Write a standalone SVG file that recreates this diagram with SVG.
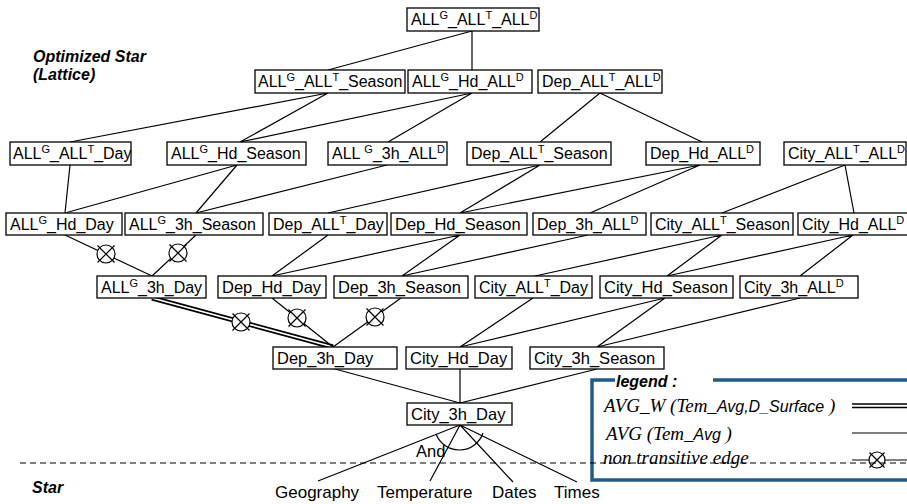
<svg xmlns="http://www.w3.org/2000/svg" width="907" height="504" viewBox="0 0 907 504">
<style>
.b{fill:#fff;stroke:#000;stroke-width:1.3}
.t{font-family:"Liberation Sans",Arial,sans-serif;font-size:16.5px;fill:#000}
.t16{font-size:16px}
.sp{font-size:11px}
.e{stroke:#000;stroke-width:1.2;fill:none}
.h{font-family:"Liberation Sans",Arial,sans-serif;font-size:16px;font-weight:bold;font-style:italic}
.lb{font-family:"Liberation Sans",Arial,sans-serif;font-size:17px}
.lg{font-family:"Liberation Serif","Times New Roman",serif;font-size:19px;font-style:italic}
.lgs{font-family:"Liberation Sans",Arial,sans-serif;font-size:16px;font-style:italic}
.bl{stroke:#1f5b8b;stroke-width:3.5;fill:none}
</style>
<defs>
<g id="ot"><circle r="9" fill="#fff" stroke="#000" stroke-width="1.2"/><path d="M-8.5-8.5L8.5 8.5M-8.5 8.5L8.5-8.5" stroke="#000" stroke-width="1.2"/></g>
<g id="ots"><circle r="8" fill="#fff" stroke="#000" stroke-width="1.2"/><path d="M-7.5-7.5L7.5 7.5M-7.5 7.5L7.5-7.5" stroke="#000" stroke-width="1.2"/></g>
</defs>

<text class="h" x="33" y="62">Optimized Star</text>
<text class="h" x="33" y="80">(Lattice)</text>
<text class="h" x="32" y="493">Star</text>

<g id="connectors">
<path class="e" d="M472 31L328 70M472 31L472 70M328 93L70 142M328 93L240 142M472 93L240 142M472 93L388 142M600 93L540 142M600 93L702 142"/>
<path class="e" d="M70 165L65 213M237 165L65 213M237 165L196 213M387 165L196 213M540 165L328 213M540 165L460 213M700 165L460 213M700 165L590 213M845 165L722 213M845 165L854 213"/>
<path class="e" d="M65 235L152 276M196 235L152 276M328 235L272 276M460 235L272 276M460 235L402 276M588 235L402 276M722 235L535 276M722 235L667 276M853 235L667 276M853 235L800 276"/>
<path d="M152 298L333 347" stroke="#000" stroke-width="5"/>
<path d="M152 298L333 347" stroke="#fff" stroke-width="1.6"/>
<path class="e" d="M272 298L333 347M401 298L333 347M533 298L460 347M665 298L460 347M665 298L597 347M800 298L597 347"/>
<path class="e" d="M335 369L460 403M460 369L460 403M597 369L460 403"/>
<path class="e" d="M460 425L318 481M460 425L430 481M460 425L513 482M460 425L577 482"/>
<path class="e" d="M436 434A25 25 0 0 0 483 433"/>
<use href="#ot" x="106" y="254"/>
<use href="#ot" x="178" y="253"/>
<use href="#ot" x="241" y="322"/>
<use href="#ot" x="297" y="318"/>
<use href="#ot" x="375" y="317"/>
</g>
<text class="t" x="416" y="457" font-size="13">And</text>

<g id="n1"><rect class="b" x="407" y="8" width="132" height="23"/><text class="t t16" x="411" y="25">ALL<tspan class="sp" dy="-6">G</tspan><tspan dy="6">_ALL</tspan><tspan class="sp" dy="-6">T</tspan><tspan dy="6">_ALL</tspan><tspan class="sp" dy="-6">D</tspan></text></g>

<g id="n2"><rect class="b" x="255" y="70" width="150" height="23"/><text class="t t16" x="258" y="87">ALL<tspan class="sp" dy="-6">G</tspan><tspan dy="6">_ALL</tspan><tspan class="sp" dy="-6">T</tspan><tspan dy="6">_Season</tspan></text></g>
<g id="n3"><rect class="b" x="408" y="70" width="124" height="23"/><text class="t t16" x="412" y="87">ALL<tspan class="sp" dy="-6">G</tspan><tspan dy="6">_Hd_ALL</tspan><tspan class="sp" dy="-6">D</tspan></text></g>
<g id="n4"><rect class="b" x="538" y="70" width="124" height="23"/><text class="t t16" x="542" y="87">Dep_ALL<tspan class="sp" dy="-6">T</tspan><tspan dy="6">_ALL</tspan><tspan class="sp" dy="-6">D</tspan></text></g>

<g id="n5"><rect class="b" x="10" y="142" width="121" height="23"/><text class="t t16" x="13" y="159">ALL<tspan class="sp" dy="-6">G</tspan><tspan dy="6">_ALL</tspan><tspan class="sp" dy="-6">T</tspan><tspan dy="6">_Day</tspan></text></g>
<g id="n6"><rect class="b" x="167" y="142" width="139" height="23"/><text class="t t16" x="171" y="159">ALL<tspan class="sp" dy="-6">G</tspan><tspan dy="6">_Hd_Season</tspan></text></g>
<g id="n7"><rect class="b" x="328" y="142" width="119" height="23"/><text class="t t16" x="332" y="159">ALL <tspan class="sp" dy="-6">G</tspan><tspan dy="6">_3h_ALL</tspan><tspan class="sp" dy="-6">D</tspan></text></g>
<g id="n8"><rect class="b" x="467" y="142" width="144" height="23"/><text class="t t16" x="471" y="159">Dep_ALL<tspan class="sp" dy="-6">T</tspan><tspan dy="6">_Season</tspan></text></g>
<g id="n9"><rect class="b" x="646" y="142" width="114" height="23"/><text class="t t16" x="650" y="159">Dep_Hd_ALL<tspan class="sp" dy="-6">D</tspan></text></g>
<g id="n10"><rect class="b" x="784" y="142" width="122" height="23"/><text class="t t16" x="788" y="159">City_ALL<tspan class="sp" dy="-6">T</tspan><tspan dy="6">_ALL</tspan><tspan class="sp" dy="-6">D</tspan></text></g>

<g id="n11"><rect class="b" x="6" y="213" width="116" height="22"/><text class="t t16" x="10" y="230">ALL<tspan class="sp" dy="-6">G</tspan><tspan dy="6">_Hd_Day</tspan></text></g>
<g id="n12"><rect class="b" x="125" y="213" width="138" height="22"/><text class="t t16" x="129" y="230">ALL<tspan class="sp" dy="-6">G</tspan><tspan dy="6">_3h_Season</tspan></text></g>
<g id="n13"><rect class="b" x="269" y="213" width="118" height="22"/><text class="t t16" x="273" y="230">Dep_ALL<tspan class="sp" dy="-6">T</tspan><tspan dy="6">_Day</tspan></text></g>
<g id="n14"><rect class="b" x="391" y="213" width="136" height="22"/><text class="t" x="395" y="230">Dep_Hd_Season</text></g>
<g id="n15"><rect class="b" x="533" y="213" width="113" height="22"/><text class="t t16" x="537" y="230">Dep_3h_ALL<tspan class="sp" dy="-6">D</tspan></text></g>
<g id="n16"><rect class="b" x="651" y="213" width="142" height="22"/><text class="t t16" x="655" y="230">City_ALL<tspan class="sp" dy="-6">T</tspan><tspan dy="6">_Season</tspan></text></g>
<g id="n17"><rect class="b" x="798" y="213" width="115" height="22"/><text class="t t16" x="802" y="230">City_Hd_ALL<tspan class="sp" dy="-6">D</tspan></text></g>

<g id="n18"><rect class="b" x="97" y="276" width="109" height="22"/><text class="t t16" x="101" y="293">ALL<tspan class="sp" dy="-6">G</tspan><tspan dy="6">_3h_Day</tspan></text></g>
<g id="n19"><rect class="b" x="218" y="276" width="108" height="22"/><text class="t" x="222" y="293">Dep_Hd_Day</text></g>
<g id="n20"><rect class="b" x="334" y="276" width="134" height="22"/><text class="t" x="338" y="293">Dep_3h_Season</text></g>
<g id="n21"><rect class="b" x="475" y="276" width="117" height="22"/><text class="t t16" x="479" y="293">City_ALL<tspan class="sp" dy="-6">T</tspan><tspan dy="6">_Day</tspan></text></g>
<g id="n22"><rect class="b" x="600" y="276" width="133" height="22"/><text class="t" x="604" y="293">City_Hd_Season</text></g>
<g id="n23"><rect class="b" x="740" y="276" width="118" height="22"/><text class="t t16" x="744" y="293">City_3h_ALL<tspan class="sp" dy="-6">D</tspan></text></g>

<g id="n24"><rect class="b" x="273" y="347" width="124" height="22"/><text class="t" x="277" y="364">Dep_3h_Day</text></g>
<g id="n25"><rect class="b" x="406" y="347" width="106" height="22"/><text class="t" x="410" y="364">City_Hd_Day</text></g>
<g id="n26"><rect class="b" x="530" y="347" width="134" height="22"/><text class="t" x="534" y="364">City_3h_Season</text></g>

<g id="n27"><rect class="b" x="407" y="403" width="105" height="22"/><text class="t" x="411" y="420">City_3h_Day</text></g>

<g id="dims">
<text class="lb" x="275" y="498">Geography</text>
<text class="lb" x="377" y="498">Temperature</text>
<text class="lb" x="492" y="498">Dates</text>
<text class="lb" x="554" y="498">Times</text>
</g>

<g id="legend">
<path class="bl" d="M615 380H592V480H910M713 380H910"/>
<text class="h" x="616" y="387" font-size="15.5">legend :</text>
<text class="lg" x="604" y="412">AVG_W (Tem_<tspan class="lgs">Avg,D_Surface</tspan> )</text>
<path d="M852 404H910M852 407.5H910" stroke="#000" stroke-width="1.5"/>
<text class="lg" x="606" y="440">AVG (Tem_<tspan class="lgs">Avg</tspan>  )</text>
<path d="M852 433H910" stroke="#000" stroke-width="1.2"/>
<text class="lg" x="603" y="464" font-size="18.5">non transitive edge</text>
<path d="M852 460H910" stroke="#000" stroke-width="1.2"/>
<use href="#ots" x="877" y="460"/>
</g>
<path d="M20 463H907" stroke="#000" stroke-width="1.2" stroke-dasharray="6 4"/>
</svg>
